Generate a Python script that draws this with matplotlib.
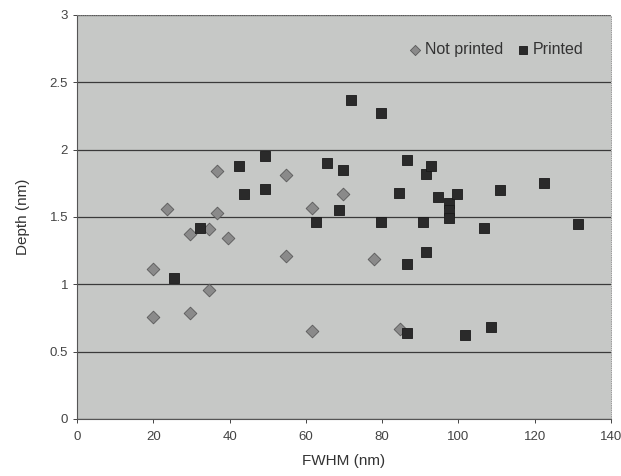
import matplotlib
matplotlib.use('Agg')
import matplotlib.pyplot as plt
import numpy as np

# Not printed (diamonds)
fwhm_not = [20, 20, 23.5, 29.5, 29.5, 34.7, 34.6, 36.7, 36.7, 39.7,
            54.9, 54.9, 61.6, 61.5, 69.7, 77.9, 84.6]
depth_not = [1.11, 0.76, 1.56, 1.37, 0.79, 1.41, 0.96, 1.84, 1.53, 1.34,
             1.81, 1.21, 1.57, 0.65, 1.67, 1.19, 0.67]

# Printed (squares)
fwhm_pr = [25.4, 32.3, 42.4, 43.8, 49.4, 49.4, 62.6, 65.5, 68.7, 69.6,
           71.7, 79.6, 79.6, 84.4, 86.6, 86.6, 86.6, 90.6, 91.5, 91.5,
           92.8, 94.7, 97.6, 97.6, 97.6, 99.6, 101.8, 106.6, 108.5, 110.8,
           122.4, 131.3]
depth_pr = [1.05, 1.42, 1.88, 1.67, 1.95, 1.71, 1.46, 1.90, 1.55, 1.85,
            2.37, 2.27, 1.46, 1.68, 1.92, 1.15, 0.64, 1.46, 1.82, 1.24,
            1.88, 1.65, 1.60, 1.55, 1.49, 1.67, 0.62, 1.42, 0.68, 1.70,
            1.75, 1.45]

plt.rcParams['font.family'] = ['Liberation Sans', 'DejaVu Sans']

fig = plt.figure(figsize=(6.21, 4.76), dpi=100)
fig.patch.set_facecolor('white')
ax = fig.add_axes([0.124, 0.12, 0.86, 0.8485])
ax.set_facecolor('#c6c8c6')

# Grid lines
ax.set_axisbelow(True)
ax.yaxis.grid(True, color='#3a3a3a', linewidth=0.9)
ax.xaxis.grid(False)

ax.scatter(fwhm_not, depth_not, marker='D', s=42, color='#8a8a8a',
           edgecolors='#5a5a5a', linewidths=0.6, label='Not printed', zorder=3)
ax.scatter(fwhm_pr, depth_pr, marker='s', s=46, color='#2a2a2a',
           edgecolors='#1a1a1a', linewidths=0.6, label='Printed', zorder=3)

ax.set_xlim(0, 140)
ax.set_ylim(0, 3)
ax.set_xticks(np.arange(0, 141, 20))
ax.set_yticks([0, 0.5, 1, 1.5, 2, 2.5, 3])
ax.set_yticklabels(['0', '0.5', '1', '1.5', '2', '2.5', '3'])
ax.tick_params(axis='both', labelsize=9.5, colors='#444444', length=3, width=0.7)
ax.tick_params(axis='x', pad=6)

for s in ['left', 'bottom']:
    ax.spines[s].set_color('#555555')
    ax.spines[s].set_linewidth(0.8)
for s in ['top', 'right']:
    ax.spines[s].set_color('#8a8a8a')
    ax.spines[s].set_linewidth(0.6)
    ax.spines[s].set_linestyle(':')

ax.set_xlabel('FWHM (nm)', fontsize=11, color='#333333', labelpad=8)
ax.set_ylabel('Depth (nm)', fontsize=11, color='#333333', labelpad=14)

ax.legend(loc='upper right', ncol=2, frameon=False, fontsize=11.5,
          handletextpad=0.05, handlelength=1.2, columnspacing=0.6,
          borderaxespad=1.3, markerscale=0.8, labelcolor='#333333')

fig.savefig('out.png', dpi=100)
